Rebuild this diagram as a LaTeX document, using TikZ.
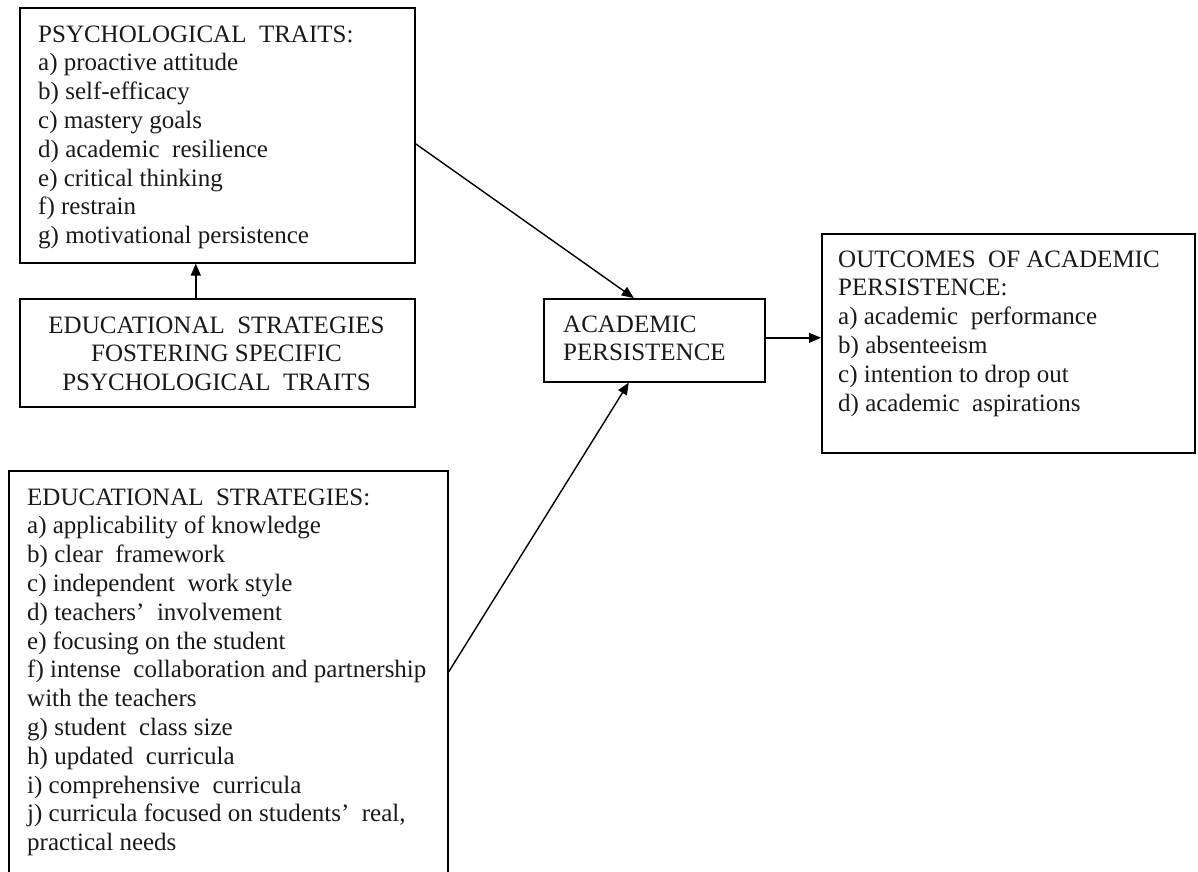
\documentclass[tikz,border=0pt]{standalone}
\usepackage{fontspec}
\setmainfont{Liberation Serif}
\usetikzlibrary{arrows.meta}
\begin{document}
\begin{tikzpicture}[x=1pt,y=-1pt,
  boxnode/.style={draw, line width=1.6pt, inner sep=0pt, anchor=north west, fill=none},
  txt/.style={inner sep=0pt, font=\fontsize{25}{28.8}\selectfont, text=black!90},
  arr/.style={line width=1.4pt, -{Triangle[length=12pt,width=10pt]}}]
\useasboundingbox (0,0) rectangle (1198,871);
% boxes
\node[boxnode, minimum width=395pt, minimum height=255pt] (b1) at (19,7) {};
\node[boxnode, minimum width=395pt, minimum height=108pt] (b2) at (19,298) {};
\node[boxnode, minimum width=439pt, minimum height=420pt] (b3) at (8,470) {};
\node[boxnode, minimum width=221pt, minimum height=83pt] (ap) at (543,298) {};
\node[boxnode, minimum width=373pt, minimum height=219pt] (out) at (821,233) {};
% texts
\node[txt, anchor=north west, align=left] (t1) at (38,21.7) {\strut PSYCHOLOGICAL\ \ TRAITS:\\
a) proactive attitude\\
b) self-efficacy\\
c) mastery goals\\
d) academic\ \ resilience\\
e) critical thinking\\
f) restrain\\
g) motivational\ persistence};
\node[txt, anchor=north, align=center] (t2) at (216.5,312.7) {\strut EDUCATIONAL\ \ STRATEGIES\\
FOSTERING SPECIFIC\\
PSYCHOLOGICAL\ \ TRAITS};
\node[txt, anchor=north west, align=left] (t3) at (27,484.7) {\strut EDUCATIONAL\ \ STRATEGIES:\\
a) applicability of knowledge\\
b) clear\ \ framework\\
c) independent\ \ work style\\
d) teachers'\ \ involvement\\
e) focusing on the student\\
f) intense\ \ collaboration and partnership\\
with the teachers\\
g) student\ \ class size\\
h) updated\ \ curricula\\
i) comprehensive\ \ curricula\\
j) curricula focused on students'\ \ real,\\
practical needs};
\node[txt, anchor=north west, align=left] (t4) at (563,311.7) {\strut ACADEMIC\\
PERSISTENCE};
\node[txt, anchor=north west, align=left] (t5) at (838,246.7) {\strut OUTCOMES\ \ OF ACADEMIC\\
PERSISTENCE:\\
a) academic\ \ performance\\
b) absenteeism\\
c) intention to drop out\\
d) academic\ \ aspirations};
% connectors
\draw[arr] ([xshift=-21.5pt]b2.north) -- ([xshift=-21.5pt]b1.south);
\draw[arr] ([yshift=-8.5pt]b1.east) -- ([xshift=-20.5pt]ap.north);
\draw[arr] ([yshift=-202pt]b3.north east) -- ([xshift=-25.5pt]ap.south);
\draw[arr] ([yshift=2.5pt]ap.east) -- ([yshift=2.5pt]ap.east -| out.west);
\end{tikzpicture}
\end{document}
